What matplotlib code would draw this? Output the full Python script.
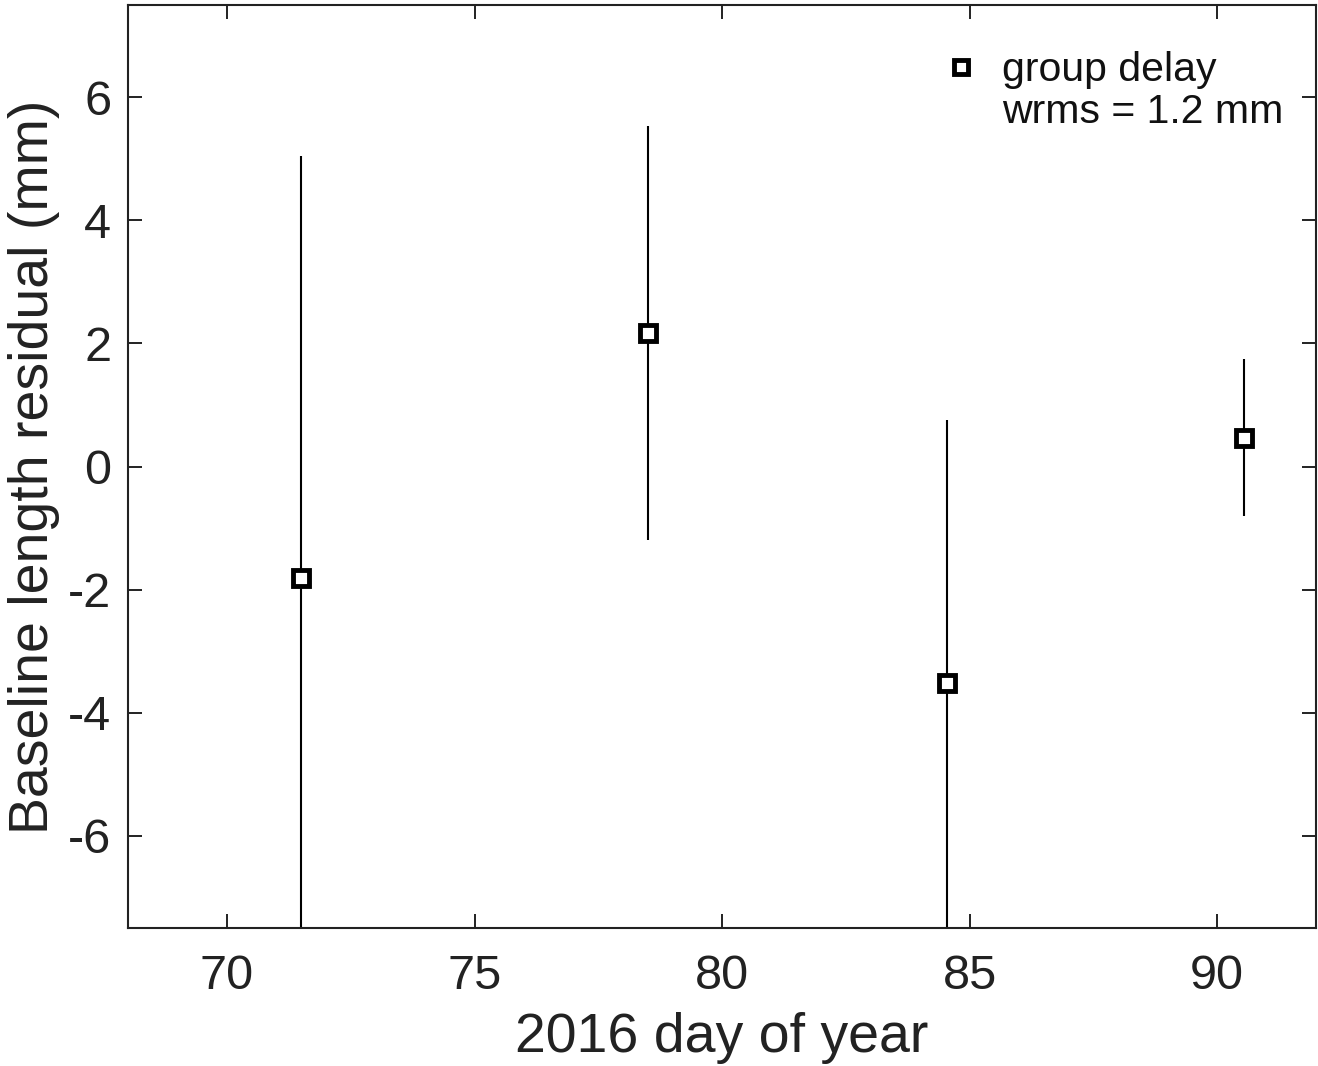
import matplotlib
matplotlib.use('Agg')
import matplotlib.pyplot as plt
from matplotlib.lines import Line2D

plt.rcParams['font.family'] = ['Liberation Sans', 'DejaVu Sans']
plt.rcParams['axes.unicode_minus'] = False

# Baseline length residuals per session
day = [71.5, 78.5, 84.55, 90.55]
residual = [-1.82, 2.17, -3.52, 0.47]
sigma = [6.86, 3.36, 4.27, 1.27]

xticks = [70, 75, 80, 85, 90]
yticks = [-6, -4, -2, 0, 2, 4, 6]

fig = plt.figure(figsize=(13.18, 10.66), dpi=100)
ax = fig.add_axes([128 / 1318, 1 - 928 / 1066, (1316 - 128) / 1318, (928 - 5) / 1066])

ax.errorbar(day, residual, yerr=sigma, fmt='s', color='black', ecolor='black',
            elinewidth=1.5, capsize=0, ms=11, mew=3.5, mfc='white', mec='black')

ax.set_xlim(68, 92)
ax.set_ylim(-7.5, 7.5)
ax.set_xticks(xticks)
ax.set_yticks(yticks)
ax.tick_params(direction='in', length=10, width=1.4, top=True, right=True,
               labelsize=35, pad=12, colors='#222222', labelcolor='#222222')
ax.tick_params(axis='x', pad=19)
for s in ax.spines.values():
    s.set_linewidth(1.5)
    s.set_color('#222222')

ax.set_xlabel('2016 day of year', fontsize=40, color='#222222', labelpad=9)
ax.set_ylabel('Baseline length residual (mm)', fontsize=40, color='#222222', labelpad=6)

# legend: marker next to the first line, wrms on the second
h1 = Line2D([], [], ls='none', marker='s', ms=10, mew=3.5, mfc='white', mec='black')
h2 = Line2D([], [], ls='none')
leg = ax.legend([h1, h2], ['group delay', 'wrms = 1.2 mm'], loc='upper right',
                bbox_to_anchor=(0.9865, 0.968), borderaxespad=0,
                frameon=False, fontsize=29.5, handletextpad=0.5, handlelength=1.0,
                labelspacing=0.1, borderpad=0.4)
for t in leg.get_texts():
    t.set_color('#111111')

fig.savefig('out.png', dpi=100)
